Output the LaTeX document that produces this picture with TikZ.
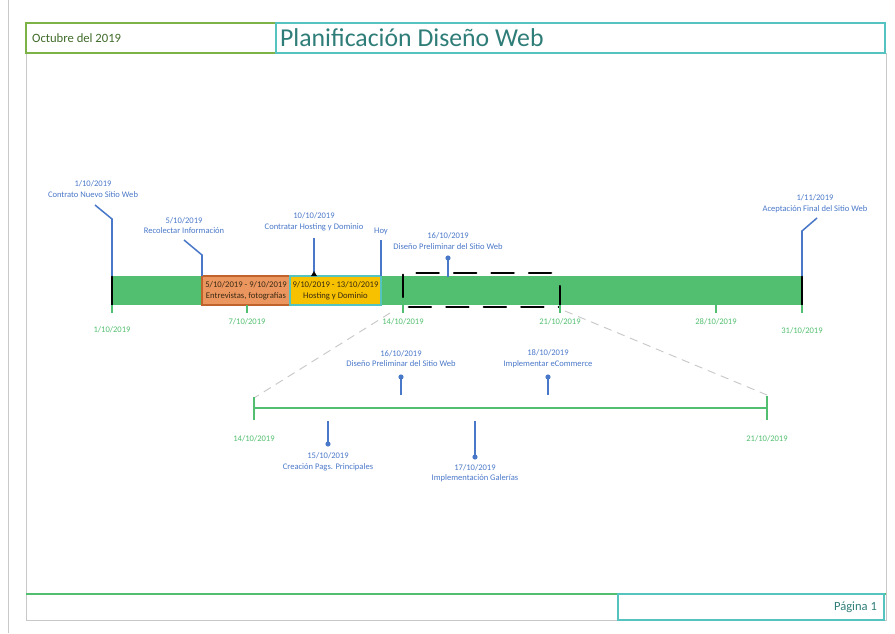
\documentclass[tikz,border=0pt]{standalone}
\usepackage{fontspec}
\setmainfont{Carlito}
\usetikzlibrary{positioning}
\definecolor{planBlue}{HTML}{4A78C8}
\definecolor{planGreen}{HTML}{52BE6F}
\definecolor{planLeaf}{HTML}{7DB346}
\definecolor{planTeal}{HTML}{55C4C0}
\definecolor{planTitle}{HTML}{2F7D78}
\definecolor{planOlive}{HTML}{3F6B2A}
\definecolor{planOrange}{HTML}{EC965F}
\definecolor{planRust}{HTML}{C0622B}
\definecolor{planGold}{HTML}{F7C100}
\definecolor{planGray}{HTML}{C8C8C8}
\definecolor{planInk}{HTML}{3A2A12}
\tikzset{
  every picture/.style={font=\fontsize{7.3}{9}\selectfont},
  plan frame/.style={draw=planGray, line width=0.6pt},
  plan label/.style={text=planBlue, align=center, inner sep=0pt},
  plan date/.style={text=planGreen, inner sep=0pt},
  plan stem/.style={draw=planBlue, line width=1.3pt},
  plan pin/.style={fill=planBlue},
  plan tick/.style={draw=planGreen, line width=1.4pt},
  plan mark/.style={draw=black, line width=1.8pt, line cap=round},
  plan task/.style={line width=1.3pt, text=planInk, align=center,
    minimum height=0.87cm, inner sep=0pt, font=\fontsize{7.4}{9.4}\selectfont},
  plan zoom/.style={draw=planGray, line width=0.8pt, dash pattern=on 7pt off 5pt}
}

\begin{document}
\begin{tikzpicture}[x=0.03cm,y=-0.03cm]
  \useasboundingbox (0,0) rectangle (895,633);
  % page frame
  \draw[plan frame] (8,0) -- (8,633);
  \draw[plan frame] (26,53) -- (26,620) -- (886,620) -- (886,53);
  % header
  \draw[draw=planLeaf, line width=1.3pt] (26,23) rectangle (276,53);
  \draw[draw=planTeal, line width=1.3pt] (276,23) rectangle (885,53);
  \node[anchor=west, text=planOlive, font=\fontsize{10.8}{13}\selectfont] (mes) at (28,38) {Octubre del 2019};
  \node[anchor=west, text=planTitle, font=\fontsize{22}{26}\selectfont] (titulo) at (276,38) {Planificación Diseño Web};
  % footer
  \draw[draw=planGreen, line width=1.8pt] (26,594) -- (886,594);
  \draw[draw=planTeal, line width=1.3pt] (618,594) rectangle (884,620);
  \node[anchor=east, text=planTitle, font=\fontsize{10.7}{13}\selectfont] (pagina) at (881,607) {Página 1};

  % main bar
  \fill[planGreen] (112,276) rectangle (802,305);
  \node[plan task, fill=planOrange, draw=planRust, minimum width=2.64cm] (entrevistas) at (246,290.5) {5/10/2019 - 9/10/2019\\Entrevistas, fotografías};
  \node[plan task, fill=planGold, draw=planTeal, minimum width=2.73cm] (hosting) at (335.5,290.5) {9/10/2019 - 13/10/2019\\Hosting y Dominio};
  \draw[plan mark] (112,276) -- (112,305);
  \draw[plan mark] (802,276) -- (802,305);
  \draw[plan mark, dash pattern=on 19pt off 13pt] (403,297) -- (403,273) -- (560,273);
  \draw[plan mark, dash pattern=on 19pt off 13pt] (560,286) -- (560,307) -- (403,307);

  % date ticks
  \foreach \x/\ly/\d in {112/330/{1/10/2019}, 247/322/{7/10/2019}, 403/322/{14/10/2019},
                         560/322/{21/10/2019}, 716/322/{28/10/2019}, 802/331/{31/10/2019}} {
    \draw[plan tick] (\x,305) -- (\x,313);
    \node[plan date] (fecha\x) at (\x,\ly) {\d};
  }

  % milestones
  \node[plan label] (contrato) at (93,189) {1/10/2019\\Contrato Nuevo Sitio Web};
  \draw[plan stem] (95,205) -- (112,219) -- (112,276);
  \node[plan label] (recolectar) at (184,225.5) {5/10/2019\\Recolectar Información};
  \draw[plan stem] (184,240) -- (202,255) -- (202,276);
  \node[plan label] (contratar) at (314,222) {10/10/2019\\Contratar Hosting y Dominio};
  \draw[plan stem] (314,238) -- (314,272);
  \fill[black] (311,276) -- (317,276) -- (314,271) -- cycle;
  \node[plan label] (hoy) at (381,231) {Hoy};
  \draw[plan stem] (381,240) -- (381,276);
  \node[plan label] (diseno) at (448,241) {16/10/2019\\Diseño Preliminar del Sitio Web};
  \draw[plan stem] (448,258) -- (448,277);
  \fill[plan pin] (448,258) circle (2.2pt);
  \node[plan label] (aceptacion) at (815,203.5) {1/11/2019\\Aceptación Final del Sitio Web};
  \draw[plan stem] (817,218) -- (802,231) -- (802,276);

  % zoomed week
  \draw[plan zoom] (390,313) -- (254,398);
  \draw[plan zoom] (565,311) -- (767,395);
  \draw[plan tick] (254,408) -- (767,408);
  \draw[plan tick] (254,397) -- (254,420);
  \draw[plan tick] (767,396) -- (767,420);
  \node[plan date] (inicio) at (254,439) {14/10/2019};
  \node[plan date] (fin) at (767,439) {21/10/2019};

  \node[plan label] (disenoz) at (401,358.5) {16/10/2019\\Diseño Preliminar del Sitio Web};
  \draw[plan stem] (401,377) -- (401,395);
  \fill[plan pin] (401,377) circle (2.2pt);
  \node[plan label] (ecommerce) at (548,358.5) {18/10/2019\\Implementar eCommerce};
  \draw[plan stem] (548,377) -- (548,395);
  \fill[plan pin] (548,377) circle (2.2pt);
  \node[plan label] (creacion) at (328,461.5) {15/10/2019\\Creación Pags. Principales};
  \draw[plan stem] (328,421) -- (328,444);
  \fill[plan pin] (328,444) circle (2.2pt);
  \node[plan label] (galerias) at (475,473) {17/10/2019\\Implementación Galerías};
  \draw[plan stem] (475,421) -- (475,457);
  \fill[plan pin] (475,457) circle (2.2pt);
\end{tikzpicture}
\end{document}
